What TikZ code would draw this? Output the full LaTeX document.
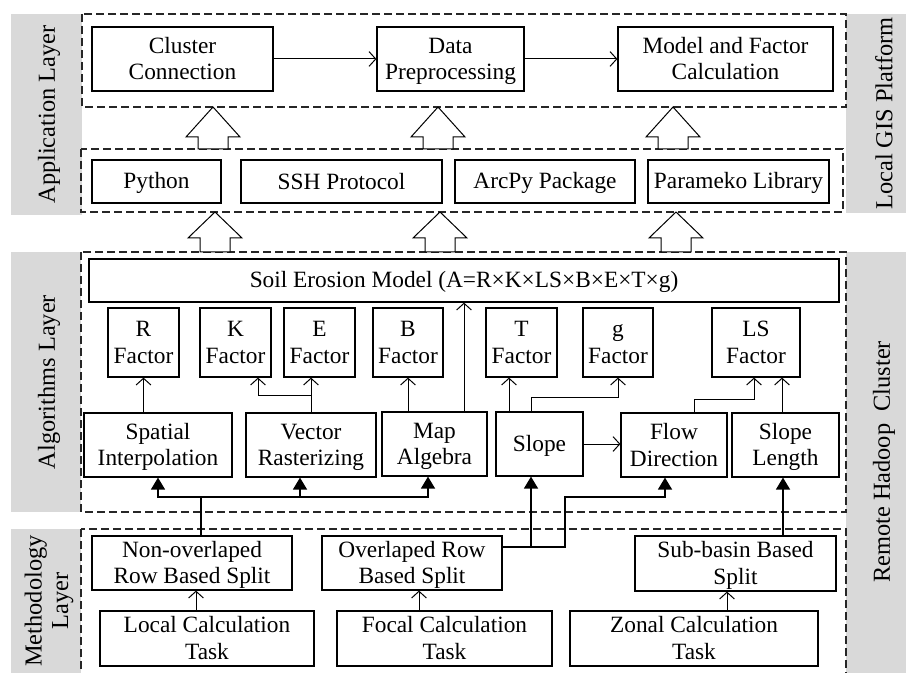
\documentclass[tikz,border=0pt]{standalone}
\usepackage{fontspec}
\setmainfont{Liberation Serif}
\usetikzlibrary{arrows.meta}
\definecolor{laygray}{RGB}{217,217,217}
\newcommand\mystrut{\rule[-3.5pt]{0pt}{18.5pt}}
\tikzset{
 box/.style={draw, line width=0.9pt, inner sep=0pt, align=center, font=\fontsize{17.5}{20}\selectfont},
 lay/.style={dash pattern=on 6pt off 3pt, line width=0.8pt, draw=black!85},
 arr/.style={line width=0.75pt, -{Straight Barb[length=5pt,width=11pt]}},
 farr/.style={line width=1.2pt, -{Triangle[length=9pt,width=10.5pt]}},
 fline/.style={line width=1.2pt},
 hollow/.style={draw, fill=white, line width=0.75pt, line join=miter},
 lbl/.style={rotate=90, align=center, font=\fontsize{18.3}{20}\selectfont},
}
\newcommand\mybox[6]{\node[box, minimum width={(#4-#2)*0.75pt}, minimum height={(#5-#3)*0.75pt}] (#1) at ({(#2+#4)/2},{(#3+#5)/2}) {\mystrut#6\mystrut};}
\newcommand\harrow[4]{\draw[hollow] ({#1-15},{#4}) -- ({#1-15},{#3}) -- ({#1-27},{#3}) -- ({#1},{#2}) -- ({#1+27},{#3}) -- ({#1+15},{#3}) -- ({#1+15},{#4}) -- cycle;}
\begin{document}
\begin{tikzpicture}[x=0.75pt,y=-0.75pt]
\useasboundingbox (0,0) rectangle (906,673);
% gray layer bands
\fill[laygray] (11,14) rectangle (82,215);
\fill[laygray] (846,14) rectangle (906,213);
\fill[laygray] (11,252) rectangle (81,512);
\fill[laygray] (11,529) rectangle (81,673);
\fill[laygray] (846,252) rectangle (906,673);
\node[lbl] (lapp) at (49,114.5) {Application Layer};
\node[lbl] (lalg) at (49,382) {Algorithms Layer};
\node[lbl] (lmeth) at (49,601) {Methodology\\Layer};
\node[lbl] (lgis) at (884,113.5) {Local GIS Platform};
\node[lbl] (lhad) at (884,462) {Remote Hadoop\ \ Cluster};
% dashed layer frames
\draw[lay] (82,14) rectangle (846,107);
\draw[lay] (81,149) rectangle (843,212);
\draw[lay] (81,252) rectangle (846,512);
\draw[lay] (81,529) rectangle (846,690);
% hollow arrows
\harrow{213}{107}{137}{149}
\harrow{438}{107}{137}{149}
\harrow{673}{107}{137}{149}
\harrow{215}{212}{238}{252}
\harrow{440}{212}{238}{252}
\harrow{676}{212}{238}{252}
% application layer
\mybox{cc}{92}{27}{273}{91}{Cluster\\Connection}
\mybox{dp}{377}{27}{524}{91}{Data\\Preprocessing}
\mybox{mf}{618}{27}{833}{91}{Model and Factor\\Calculation}
\mybox{py}{92}{160}{221}{203}{Python}
\mybox{ssh}{241}{160}{442}{203}{SSH Protocol}
\mybox{arcpy}{455}{160}{635}{203}{ArcPy Package}
\mybox{par}{648}{160}{829}{203}{Parameko Library}
% algorithms layer
\mybox{soil}{89}{259}{839}{302}{Soil Erosion Model (A=R×K×LS×B×E×T×g)}
\mybox{R}{108}{308}{179}{377}{R\\Factor}
\mybox{K}{200}{308}{271}{377}{K\\Factor}
\mybox{E}{284}{308}{355}{377}{E\\Factor}
\mybox{B}{373}{308}{443}{377}{B\\Factor}
\mybox{T}{486}{308}{557}{377}{T\\Factor}
\mybox{g}{583}{308}{653}{377}{g\\Factor}
\mybox{LS}{712}{308}{800}{377}{LS\\Factor}
\mybox{si}{84}{413}{232}{477}{Spatial\\Interpolation}
\mybox{vec}{246}{413}{376}{477}{Vector\\Rasterizing}
\mybox{ma}{382}{412}{487}{476}{Map\\Algebra}
\mybox{sl}{496}{412}{583}{476}{Slope}
\mybox{fd}{621}{413}{727}{477}{Flow\\Direction}
\mybox{slen}{732}{413}{839}{477}{Slope\\Length}
% methodology layer
\mybox{nrs}{92}{536}{292}{590}{Non-overlaped\\Row Based Split}
\mybox{ors}{322}{536}{502}{590}{Overlaped Row\\Based Split}
\mybox{sub}{635}{536}{836}{591}{Sub-basin Based\\Split}
\mybox{lct}{100}{611}{314}{666}{Local Calculation\\Task}
\mybox{fct}{337}{611}{552}{666}{Focal Calculation\\Task}
\mybox{zct}{570}{611}{818}{666}{Zonal Calculation\\Task}
% connectors, application layer
\draw[arr] (cc) -- (dp);
\draw[arr] (dp) -- (mf);
% connectors, algorithms layer
\draw[arr] (si.north -| R.south) -- (R.south);
\draw[arr] (vec.north) -- (E.south -| vec.north);
\draw[arr] (vec.north |- 0,395) -| (K.south -| 258,0);
\draw[arr] (ma.north -| B.south) -- (B.south);
\draw[arr] (ma.north -| 464,0) -- (soil.south -| 464,0);
\draw[arr] (sl.north -| 509,0) -- (T.south -| 509,0);
\draw[arr] (sl.north -| 531,0) -- (531,397) -| (g.south);
\draw[arr] (sl.east) -- (sl.east -| fd.west);
\draw[arr] (fd.north -| 694,0) -- (694,399) -| (LS.south -| 754,0);
\draw[arr] (slen.north -| 782,0) -- (LS.south -| 782,0);
% connectors, methodology to algorithms
\draw[fline] (nrs.north -| 201,0) -- (201,497);
\draw[farr] (201,497) -| (si.south);
\draw[farr] (201,497) -| (vec.south -| 300,0);
\draw[farr] (201,497) -| (ma.south -| 428,0);
\draw[farr] (ors.east |- 0,547) -- (565,547) |- (665,497) -- (fd.south -| 665,0);
\draw[farr] (531,547) -- (sl.south -| 531,0);
\draw[farr] (sub.north -| 783,0) -- (slen.south -| 783,0);
% task to split
\draw[arr] (lct.north -| 196,0) -- (nrs.south -| 196,0);
\draw[arr] (fct.north -| 419,0) -- (ors.south -| 419,0);
\draw[arr] (zct.north -| 727,0) -- (sub.south -| 727,0);
\end{tikzpicture}
\end{document}
